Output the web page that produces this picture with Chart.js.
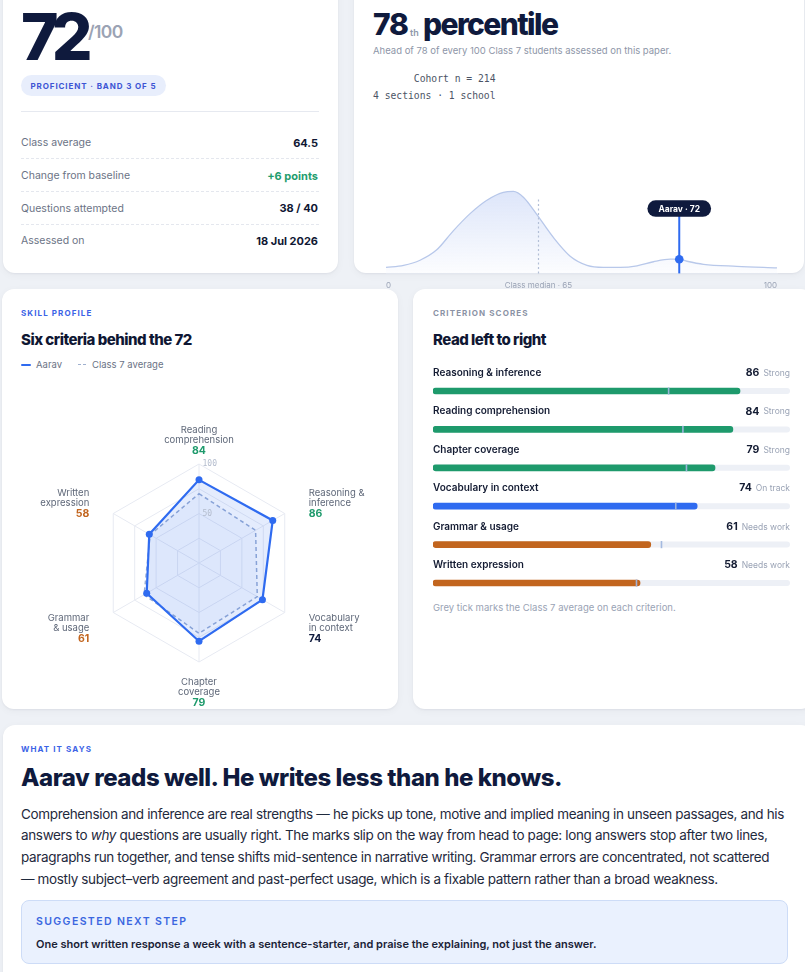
<!DOCTYPE html>
<html>
<head>
<meta charset="utf-8">
<script src="https://cdn.jsdelivr.net/npm/chart.js@4.4.1/dist/chart.umd.min.js"></script>
<style>
  html, body { margin: 0; padding: 0; }
  body { width: 805px; height: 972px; overflow: hidden; position: relative; background: #eef1f6; font-family: Inter, 'Noto Sans', sans-serif; color: #111a33; }
  .card { position: absolute; background: #fff; border-radius: 12px; box-shadow: 0 1px 2px rgba(15,23,42,0.05), 0 2px 8px rgba(15,23,42,0.04); }
  .t { position: absolute; line-height: 1; white-space: nowrap; }
  .eyebrow { font-size: 8px; font-weight: 700; letter-spacing: 1.1px; }
  .h2 { font-size: 15px; font-weight: 800; letter-spacing: -0.5px; color: #0f1733; }
  .row-l { font-size: 10.5px; color: #6b7385; left: 21px; }
  .row-v { font-size: 11px; font-weight: 700; color: #0f1733; right: 487px; text-align: right; }
  .dash { position: absolute; left: 21px; width: 298px; border-top: 1px dashed #e4e7ee; height: 0; }
  canvas { position: absolute; }
</style>
</head>
<body>

<!-- score card -->
<div class="card" style="left:3px; top:-20px; width:335px; height:293px;"></div>
<div class="t" style="left:21px; top:5px; font-size:64px; font-weight:800; letter-spacing:-7px; color:#0f1a3d;">72</div>
<div class="t" style="left:88px; top:22.5px; font-size:17.5px; font-weight:600; letter-spacing:-0.6px; color:#9ba3b4;">/100</div>
<div style="position:absolute; left:21px; top:75px; width:145px; height:21px; border-radius:11px; background:#e8eefc; display:flex; align-items:center; justify-content:center; font-size:8px; font-weight:700; letter-spacing:0.9px; color:#3d55d4;">PROFICIENT · BAND 3 OF 5</div>
<div style="position:absolute; left:21px; top:111px; width:298px; height:1px; background:#e6e9f0;"></div>
<div id="rows"></div>

<!-- percentile card -->
<div class="card" style="left:354px; top:-20px; width:450px; height:293px;"></div>
<div class="t" style="left:373px; top:9px; font-size:30px; font-weight:800; letter-spacing:-1.2px; color:#0f1a3d;">78</div>
<div class="t" style="left:410px; top:27.5px; font-size:9px; font-weight:600; color:#8e97aa;">th</div>
<div class="t" style="left:423px; top:9px; font-size:30px; font-weight:800; letter-spacing:-1.6px; color:#0f1a3d;">percentile</div>
<div class="t" style="left:373px; top:46px; font-size:9.5px; color:#8e96a8;">Ahead of 78 of every 100 Class 7 students assessed on this paper.</div>
<div class="t" style="left:373px; top:70px; font-size:9.7px; font-family:'DejaVu Sans Mono', monospace; color:#4b5465; white-space:pre; line-height:17px;">       Cohort n = 214
4 sections · 1 school</div>

<!-- skill profile card -->
<div class="card" style="left:2px; top:289px; width:396px; height:420px;"></div>
<div class="t eyebrow" style="left:21px; top:309px; color:#3b63e6;">SKILL PROFILE</div>
<div class="t h2" style="left:21px; top:332px;">Six criteria behind the 72</div>
<div style="position:absolute; left:21px; top:363.5px; width:10px; height:2.5px; border-radius:2px; background:#2f6bf0;"></div>
<div class="t" style="left:36px; top:360px; font-size:9.5px; color:#6b7385;">Aarav</div>
<div style="position:absolute; left:78px; top:364px; width:8px; height:0; border-top:1.2px dashed #9fb0cf;"></div>
<div class="t" style="left:92px; top:360px; font-size:9.5px; color:#6b7385;">Class 7 average</div>

<!-- criterion card -->
<div class="card" style="left:413px; top:289px; width:400px; height:420px;"></div>
<div class="t eyebrow" style="left:433px; top:309px; color:#8b93a5;">CRITERION SCORES</div>
<div class="t h2" style="left:433px; top:332px;">Read left to right</div>
<div class="t" style="left:433px; top:602.5px; font-size:9.5px; color:#9aa3b5;">Grey tick marks the Class 7 average on each criterion.</div>

<!-- summary card -->
<div class="card" style="left:3px; top:725px; width:810px; height:270px;"></div>
<div class="t eyebrow" style="left:21px; top:745px; color:#3b63e6;">WHAT IT SAYS</div>
<div class="t" style="left:21px; top:766px; font-size:24px; font-weight:800; letter-spacing:-0.45px; color:#0f1a3d;">Aarav reads well. He writes less than he knows.</div>
<div style="position:absolute; left:21px; top:803.5px; width:768px; font-size:13.5px; line-height:21.7px; letter-spacing:-0.35px; color:#1f2a3d;">Comprehension and inference are real strengths — he picks up tone, motive and implied meaning in unseen passages, and his answers to <i>why</i> questions are usually right. The marks slip on the way from head to page: long answers stop after two lines, paragraphs run together, and tense shifts mid-sentence in narrative writing. Grammar errors are concentrated, not scattered —&nbsp;mostly subject–verb agreement and past-perfect usage, which is a fixable pattern rather than a broad weakness.</div>
<div style="position:absolute; left:21px; top:900px; width:767px; height:64px; box-sizing:border-box; border:1px solid #cddcf7; border-radius:8px; background:#eaf1fe;"></div>
<div class="t" style="left:36px; top:916.5px; font-size:10.5px; font-weight:600; letter-spacing:1.4px; color:#3a66e0;">SUGGESTED NEXT STEP</div>
<div class="t" style="left:36px; top:938.5px; font-size:11px; font-weight:600; color:#1a2236;">One short written response a week with a sentence-starter, and praise the explaining, not just the answer.</div>

<canvas id="cohort" width="405" height="135" style="left:379px; top:164px;"></canvas>
<canvas id="radar" width="340" height="290" style="left:30px; top:418px;"></canvas>
<canvas id="bars" width="357" height="255" style="left:433px; top:355px;"></canvas>

<script>
Chart.defaults.font.family = 'Inter';

const summaryLabels = ['Class average', 'Change from baseline', 'Questions attempted', 'Assessed on'];
const summaryValues = ['64.5', '+6 points', '38 / 40', '18 Jul 2026'];

const criteria = ['Reading comprehension', 'Reasoning & inference', 'Vocabulary in context', 'Chapter coverage', 'Grammar & usage', 'Written expression'];
const radarLines = [['Reading', 'comprehension'], ['Reasoning &', 'inference'], ['Vocabulary', 'in context'], ['Chapter', 'coverage'], ['Grammar', '& usage'], ['Written', 'expression']];
const aaravScores = [84, 86, 74, 79, 61, 58];
const classAverages = [70, 66, 68, 71, 64, 57];
const bands = ['Strong', 'Strong', 'On track', 'Strong', 'Needs work', 'Needs work'];
const radarTicks = [50, 100];

const cohortX = [0, 4.5, 8.7, 12.9, 17.2, 21.5, 25.7, 30, 32.6, 35.2, 38.6, 42.9, 47.1, 51.4, 55.6, 59.9, 64.2, 68.4, 72.7, 75, 77, 81.2, 89.7, 100];
const cohortDensity = [6, 8, 13, 23, 42, 59, 72, 80, 81, 75, 58, 35, 17, 8, 6, 6, 7.5, 11.5, 14, 14, 12, 9, 7, 5.5];
const cohortTickLabels = ['0', 'Class median · 65', '100'];
const medianAt = 39;
const aaravAt = 75;
const aaravTag = 'Aarav · 72';

const bandColor = { 'Strong': '#1e9a6c', 'On track': '#2f6bf0', 'Needs work': '#c2651e' };
const bandText = { 'Strong': '#1e9a6c', 'On track': '#0f1a3d', 'Needs work': '#c2651e' };

// summary rows
var rowsHtml = '';
var rowY = [142, 175, 207.7, 240];
summaryLabels.forEach(function (l, i) {
  var c = i === 1 ? '#1f9d6e' : '#0f1733';
  rowsHtml += '<div class="t row-l" style="top:' + (rowY[i] - 4.2) + 'px">' + l + '</div>';
  rowsHtml += '<div class="t row-v" style="top:' + (rowY[i] - 4.5) + 'px; color:' + c + '">' + summaryValues[i] + '</div>';
  if (i < 3) rowsHtml += '<div class="dash" style="top:' + (rowY[i] + 16.3) + 'px"></div>';
});
document.getElementById('rows').innerHTML = rowsHtml;

// bar order: highest score first
const order = aaravScores.map((v, i) => i).sort((a, b) => aaravScores[b] - aaravScores[a]);
const barLabels = order.map(i => criteria[i]);
const barScores = order.map(i => aaravScores[i]);
const barAverages = order.map(i => classAverages[i]);
const barBands = order.map(i => bands[i]);

// cohort distribution
const cohortMarks = {
  id: 'cohortMarks',
  afterDatasetsDraw: chart => {
    const ctx = chart.ctx;
    const x = chart.scales.x, y = chart.scales.y;
    const base = y.getPixelForValue(0);
    ctx.save();
    // median
    const mx = x.getPixelForValue(medianAt);
    ctx.beginPath();
    ctx.setLineDash([2, 2.5]);
    ctx.moveTo(mx, base);
    ctx.lineTo(mx, y.getPixelForValue(75));
    ctx.strokeStyle = '#b3bfd6';
    ctx.lineWidth = 1.2;
    ctx.stroke();
    ctx.setLineDash([]);
    // Aarav
    const ax = x.getPixelForValue(aaravAt);
    const pt = chart.getDatasetMeta(0).data[cohortX.indexOf(aaravAt)];
    const py = y.getPixelForValue(64);
    ctx.beginPath();
    ctx.moveTo(ax, py);
    ctx.lineTo(ax, base);
    ctx.strokeStyle = '#2f6bf0';
    ctx.lineWidth = 2;
    ctx.stroke();
    ctx.beginPath();
    ctx.arc(ax, pt.y, 4.3, 0, Math.PI * 2);
    ctx.fillStyle = '#2f6bf0';
    ctx.fill();
    ctx.font = '700 8.5px Inter';
    const w = ctx.measureText(aaravTag).width + 22;
    ctx.beginPath();
    ctx.roundRect(ax - w / 2, py - 8.3, w, 16.6, 8.3);
    ctx.fillStyle = '#0f1a3d';
    ctx.fill();
    ctx.fillStyle = '#fff';
    ctx.textAlign = 'center';
    ctx.textBaseline = 'middle';
    ctx.fillText(aaravTag, ax, py + 0.5);
    ctx.restore();
  }
};

new Chart(document.getElementById('cohort'), {
  type: 'line',
  plugins: [cohortMarks],
  data: {
    datasets: [{
      data: cohortX.map((v, i) => ({ x: v, y: cohortDensity[i] })),
      borderColor: '#b8c8ea',
      borderWidth: 1.3,
      pointRadius: 0,
      tension: 0.4,
      cubicInterpolationMode: 'monotone',
      fill: 'origin',
      backgroundColor: function (context) {
        const area = context.chart.chartArea;
        if (!area) return 'rgba(109,145,232,0.15)';
        const g = context.chart.ctx.createLinearGradient(0, area.top, 0, area.bottom);
        g.addColorStop(0, 'rgba(109,145,232,0.30)');
        g.addColorStop(1, 'rgba(109,145,232,0.02)');
        return g;
      }
    }]
  },
  options: {
    responsive: false,
    animation: false,
    layout: { autoPadding: false, padding: { bottom: 2 } },
    plugins: { legend: { display: false }, tooltip: { enabled: false } },
    scales: {
      x: {
        type: 'linear',
        min: 0,
        max: 100,
        afterBuildTicks: scale => { scale.ticks = [0, medianAt, 100].map(v => ({ value: v })); },
        ticks: {
          align: 'inner',
          padding: 7,
          autoSkip: false,
          maxRotation: 0,
          color: '#9aa3b5',
          font: { size: 8 },
          callback: (value, index) => cohortTickLabels[index]
        },
        grid: { display: false, drawTicks: false },
        border: { color: '#e3e7ef' }
      },
      y: { display: false, min: 0, max: 108 }
    }
  }
});

// radar
const radarText = {
  id: 'radarText',
  afterDraw: chart => {
    const ctx = chart.ctx;
    const r = chart.scales.r;
    const outer = r.getDistanceFromCenterForValue(100);
    ctx.save();
    ctx.font = '8px "DejaVu Sans Mono"';
    ctx.fillStyle = '#b3bccd';
    ctx.textAlign = 'left';
    ctx.textBaseline = 'middle';
    radarTicks.forEach(v => {
      const p = r.getPointPosition(0, r.getDistanceFromCenterForValue(v));
      ctx.fillText(v, p.x + 3.5, p.y);
    });
    radarLines.forEach((lines, i) => {
      const v = r.getPointPosition(i, outer);
      const dx = v.x - r.xCenter;
      let x = v.x, y0, align;
      if (Math.abs(dx) < 1) {
        align = 'center';
        y0 = v.y < r.yCenter ? v.y - 34 : v.y + 20;
      } else {
        align = dx > 0 ? 'left' : 'right';
        x = v.x + (dx > 0 ? 24 : -24);
        y0 = v.y < r.yCenter ? v.y - 20 : v.y + 6;
      }
      ctx.textAlign = align;
      ctx.font = '9.5px Inter';
      ctx.fillStyle = '#5f6879';
      ctx.fillText(lines[0], x, y0);
      ctx.fillText(lines[1], x, y0 + 10);
      ctx.font = '700 10.5px Inter';
      ctx.fillStyle = bandText[bands[i]];
      ctx.fillText(aaravScores[i], x, y0 + 20.7);
    });
    ctx.restore();
  }
};

new Chart(document.getElementById('radar'), {
  type: 'radar',
  plugins: [radarText],
  data: {
    labels: criteria,
    datasets: [{
      label: 'Aarav',
      data: aaravScores,
      borderColor: '#2f6bf0',
      backgroundColor: 'rgba(47,107,240,0.13)',
      borderWidth: 2.2,
      pointRadius: 3.5,
      pointBackgroundColor: '#2f6bf0',
      pointBorderWidth: 0,
      fill: true
    }, {
      label: 'Class 7 average',
      data: classAverages,
      borderColor: '#95abd4',
      borderDash: [4, 3],
      borderWidth: 1.5,
      pointRadius: 0,
      backgroundColor: 'rgba(47,107,240,0.04)',
      fill: true
    }]
  },
  options: {
    responsive: false,
    animation: false,
    layout: { padding: { left: 70, right: 72, top: 46, bottom: 46 } },
    plugins: { legend: { display: false }, tooltip: { enabled: false } },
    scales: {
      r: {
        min: 0,
        max: 100,
        ticks: { display: false, stepSize: 25 },
        pointLabels: { display: false },
        grid: { color: '#e7eaf2' },
        angleLines: { color: '#e7eaf2' }
      }
    }
  }
});

// criterion bars
const barExtras = {
  id: 'barExtras',
  beforeDatasetsDraw: chart => {
    const ctx = chart.ctx;
    const x = chart.scales.x, y = chart.scales.y;
    ctx.save();
    ctx.fillStyle = '#edf0f6';
    barLabels.forEach((l, i) => {
      const py = y.getPixelForValue(i);
      ctx.beginPath();
      ctx.roundRect(x.getPixelForValue(0), py - 3, x.getPixelForValue(100) - x.getPixelForValue(0), 6, 3);
      ctx.fill();
    });
    ctx.restore();
  },
  afterDatasetsDraw: chart => {
    const ctx = chart.ctx;
    const x = chart.scales.x, y = chart.scales.y;
    ctx.save();
    ctx.fillStyle = 'rgba(160,182,222,0.95)';
    barAverages.forEach((v, i) => {
      const py = y.getPixelForValue(i);
      ctx.fillRect(x.getPixelForValue(v) - 0.8, py - 3.6, 1.6, 7.2);
    });
    ctx.restore();
  },
  afterDraw: chart => {
    const ctx = chart.ctx;
    const area = chart.chartArea;
    const y = chart.scales.y;
    ctx.save();
    ctx.textBaseline = 'middle';
    barLabels.forEach((name, i) => {
      const ty = y.getPixelForValue(i) - 18;
      ctx.textAlign = 'left';
      ctx.font = '600 10px Inter';
      ctx.fillStyle = '#141c33';
      ctx.fillText(name, area.left, ty);
      ctx.textAlign = 'right';
      ctx.font = '8.5px Inter';
      ctx.fillStyle = '#9aa3b5';
      ctx.fillText(barBands[i], area.right, ty + 0.5);
      const w = ctx.measureText(barBands[i]).width;
      ctx.font = '700 10.5px Inter';
      ctx.fillStyle = '#141c33';
      ctx.fillText(barScores[i], area.right - w - 4, ty);
    });
    ctx.restore();
  }
};

new Chart(document.getElementById('bars'), {
  type: 'bar',
  plugins: [barExtras],
  data: {
    labels: barLabels,
    datasets: [{
      data: barScores,
      backgroundColor: barBands.map(b => bandColor[b]),
      barThickness: 6,
      borderRadius: 3,
      borderSkipped: false
    }]
  },
  options: {
    indexAxis: 'y',
    responsive: false,
    animation: false,
    layout: { padding: { top: 16.8, bottom: 7.8, left: 0, right: 0 } },
    plugins: { legend: { display: false }, tooltip: { enabled: false } },
    scales: {
      x: { display: false, min: 0, max: 100 },
      y: { display: false }
    }
  }
});
</script>
</body>
</html>
